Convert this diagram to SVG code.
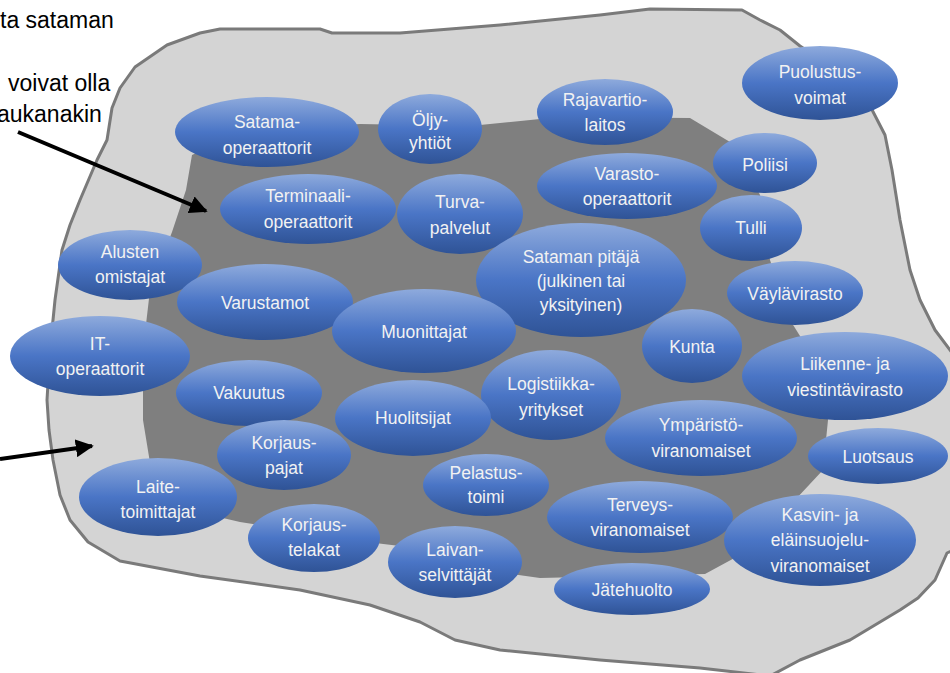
<svg xmlns="http://www.w3.org/2000/svg" width="950" height="673" viewBox="0 0 950 673">
<defs>
<linearGradient id="g" x1="0" y1="0" x2="0" y2="1">
<stop offset="0" stop-color="#8eaadc"/>
<stop offset="0.5" stop-color="#4a75c6"/>
<stop offset="1" stop-color="#2f5396"/>
</linearGradient>
<marker id="ah" viewBox="0 0 10 10" refX="9" refY="5" markerWidth="4.5" markerHeight="4.5" orient="auto" markerUnits="strokeWidth">
<path d="M0,0 L10,5 L0,10 Z" fill="#000"/>
</marker>
<style>
.n ellipse{fill:url(#g)}
.n text{font-family:"Liberation Sans",Arial,sans-serif;font-size:17.5px;fill:#f2f2f2;text-anchor:middle}
.lbl{font-family:"Liberation Sans",Arial,sans-serif;font-size:23px;fill:#000}
</style>
</defs>
<rect width="950" height="673" fill="#fff"/>
<g id="background">
<path d="M107,140 L112,108 L120,88 L135,67 L167,45 L200,33 L220,29 L320,29 L332,33 L400,33 L500,25 L600,15 L650,9 L742,10 L760,20 L780,30 L800,46 L830,66 L867,100 L885,135 L892,170 L900,220 L910,270 L920,300 L935,330 L965,370 L965,545 L947,553 L935,580 L918,598 L900,610 L870,628 L850,640 L800,660 L770,676 L700,668 L600,660 L500,650 L455,640 L420,622 L370,605 L300,590 L200,576 L120,561 L88,542 L70,520 L60,495 L53,460 L49,430 L47,400 L50,350 L55,300 L62,250 L70,225 L80,200 L97,160 Z" fill="#d4d4d4" stroke="#7a7a7a" stroke-width="3" stroke-linejoin="round"/>
<path d="M192,155 L230,137 L300,128 L360,124 L470,126 L560,117 L690,118 L735,145 L760,195 L770,260 L790,320 L815,360 L828,420 L823,470 L795,500 L740,555 L705,574 L540,578 L470,568 L400,546 L350,540 L240,522 L180,508 L152,475 L143,420 L143,350 L150,290 L172,232 L186,190 Z" fill="#7f7f7f"/>
</g>
<g id="annotations">
<text class="lbl" x="0" y="28">ta sataman</text>
<text class="lbl" x="8" y="91">voivat olla</text>
<text class="lbl" x="-3" y="122">aukanakin</text>
</g>
<g id="connectors" stroke="#000" stroke-width="4" fill="none">
<line x1="18" y1="132" x2="206" y2="211" marker-end="url(#ah)"/>
<line x1="0" y1="459" x2="92" y2="446" marker-end="url(#ah)"/>
</g>
<g id="n1" class="n"><ellipse cx="267" cy="132" rx="92" ry="35"/><text x="267" y="128">Satama-</text><text x="267" y="154">operaattorit</text></g>
<g id="n2" class="n"><ellipse cx="430" cy="129" rx="52" ry="35"/><text x="430" y="126">Öljy-</text><text x="430" y="149">yhtiöt</text></g>
<g id="n3" class="n"><ellipse cx="605" cy="112" rx="68" ry="33"/><text x="605" y="106">Rajavartio-</text><text x="605" y="131">laitos</text></g>
<g id="n4" class="n"><ellipse cx="820" cy="83" rx="78" ry="37"/><text x="820" y="78">Puolustus-</text><text x="820" y="104">voimat</text></g>
<g id="n5" class="n"><ellipse cx="765" cy="163" rx="52" ry="30"/><text x="765" y="171">Poliisi</text></g>
<g id="n6" class="n"><ellipse cx="627" cy="186" rx="90" ry="33"/><text x="627" y="180">Varasto-</text><text x="627" y="205">operaattorit</text></g>
<g id="n7" class="n"><ellipse cx="308" cy="209" rx="88" ry="35"/><text x="308" y="202">Terminaali-</text><text x="308" y="228">operaattorit</text></g>
<g id="n8" class="n"><ellipse cx="460" cy="214" rx="63" ry="40"/><text x="460" y="208">Turva-</text><text x="460" y="234">palvelut</text></g>
<g id="n9" class="n"><ellipse cx="751" cy="228" rx="51" ry="33"/><text x="751" y="234">Tulli</text></g>
<g id="n10" class="n"><ellipse cx="130" cy="265" rx="72" ry="35"/><text x="130" y="258">Alusten</text><text x="130" y="283">omistajat</text></g>
<g id="n11" class="n"><ellipse cx="581" cy="280" rx="105" ry="57"/><text x="581" y="263">Sataman pitäjä</text><text x="581" y="287">(julkinen tai</text><text x="581" y="311">yksityinen)</text></g>
<g id="n12" class="n"><ellipse cx="795" cy="293" rx="68" ry="32"/><text x="795" y="300">Väylävirasto</text></g>
<g id="n13" class="n"><ellipse cx="265" cy="302" rx="88" ry="38"/><text x="265" y="309">Varustamot</text></g>
<g id="n14" class="n"><ellipse cx="424" cy="331" rx="92" ry="42"/><text x="424" y="338">Muonittajat</text></g>
<g id="n15" class="n"><ellipse cx="100" cy="356" rx="90" ry="40"/><text x="100" y="350">IT-</text><text x="100" y="375">operaattorit</text></g>
<g id="n16" class="n"><ellipse cx="692" cy="346" rx="50" ry="37"/><text x="692" y="353">Kunta</text></g>
<g id="n17" class="n"><ellipse cx="845" cy="376" rx="103" ry="44"/><text x="845" y="370">Liikenne- ja</text><text x="845" y="396">viestintävirasto</text></g>
<g id="n18" class="n"><ellipse cx="249" cy="393" rx="73" ry="33"/><text x="249" y="399">Vakuutus</text></g>
<g id="n19" class="n"><ellipse cx="551" cy="395" rx="70" ry="45"/><text x="551" y="390">Logistiikka-</text><text x="551" y="416">yritykset</text></g>
<g id="n20" class="n"><ellipse cx="413" cy="418" rx="78" ry="38"/><text x="413" y="424">Huolitsijat</text></g>
<g id="n21" class="n"><ellipse cx="701" cy="438" rx="96" ry="38"/><text x="701" y="431">Ympäristö-</text><text x="701" y="457">viranomaiset</text></g>
<g id="n22" class="n"><ellipse cx="878" cy="456" rx="70" ry="28"/><text x="878" y="463">Luotsaus</text></g>
<g id="n23" class="n"><ellipse cx="284" cy="455" rx="67" ry="35"/><text x="284" y="449">Korjaus-</text><text x="284" y="474">pajat</text></g>
<g id="n24" class="n"><ellipse cx="486" cy="485" rx="63" ry="31"/><text x="486" y="479">Pelastus-</text><text x="486" y="503">toimi</text></g>
<g id="n25" class="n"><ellipse cx="158" cy="497" rx="79" ry="39"/><text x="158" y="493">Laite-</text><text x="158" y="518">toimittajat</text></g>
<g id="n26" class="n"><ellipse cx="640" cy="517" rx="93" ry="36"/><text x="640" y="511">Terveys-</text><text x="640" y="536">viranomaiset</text></g>
<g id="n27" class="n"><ellipse cx="820" cy="540" rx="96" ry="46"/><text x="820" y="521">Kasvin- ja</text><text x="820" y="546">eläinsuojelu-</text><text x="820" y="572">viranomaiset</text></g>
<g id="n28" class="n"><ellipse cx="314" cy="538" rx="66" ry="34"/><text x="314" y="531">Korjaus-</text><text x="314" y="556">telakat</text></g>
<g id="n29" class="n"><ellipse cx="455" cy="562" rx="67" ry="36"/><text x="455" y="556">Laivan-</text><text x="455" y="581">selvittäjät</text></g>
<g id="n30" class="n"><ellipse cx="632" cy="589" rx="78" ry="26"/><text x="632" y="596">Jätehuolto</text></g>
</svg>
